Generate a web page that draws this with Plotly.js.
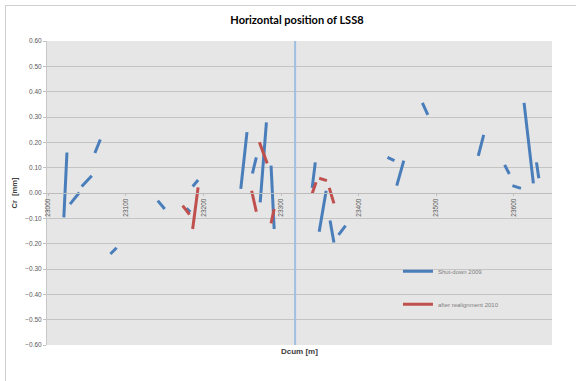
<!DOCTYPE html>
<html>
<head>
<meta charset="utf-8">
<script src="https://cdn.plot.ly/plotly-3.0.1.min.js"></script>
<style>
html,body{margin:0;padding:0;background:#fff;}
#wrap{position:relative;width:576px;height:381px;overflow:hidden;}
#chart{width:576px;height:381px;}
#frame{position:absolute;left:5px;top:5px;width:620px;height:420px;border:1.5px solid #d0d0d0;pointer-events:none;}
</style>
</head>
<body>
<div id="wrap"><div id="chart"></div><div id="frame"></div></div>
<script>
// Shut-down 2009 segments (start / end points)
const shutX0 = [23024, 23028, 23043, 23060, 23080, 23141, 23178, 23186, 23256, 23268, 23281, 23287, 23344, 23358, 23363, 23374, 23437, 23458, 23482, 23561, 23588, 23598, 23613, 23629];
const shutY0 = [0.160, -0.044, 0.026, 0.158, -0.241, -0.030, -0.060, 0.026, 0.240, 0.141, 0.279, 0.108, 0.121, 0.009, -0.109, -0.165, 0.141, 0.128, 0.356, 0.229, 0.111, 0.029, 0.356, 0.121];
const shutX1 = [23020, 23040, 23056, 23067, 23088, 23150, 23183, 23193, 23248, 23263, 23273, 23291, 23340, 23349, 23368, 23383, 23446, 23449, 23489, 23554, 23594, 23609, 23625, 23632];
const shutY1 = [-0.096, 0.002, 0.068, 0.211, -0.216, -0.063, -0.075, 0.051, 0.016, 0.077, -0.037, -0.142, 0.020, -0.153, -0.195, -0.129, 0.128, 0.029, 0.308, 0.147, 0.075, 0.018, 0.038, 0.058];

// After realignment 2010 segments
const realX0 = [23173, 23186, 23262, 23272, 23291, 23345, 23349, 23362];
const realY0 = [-0.050, -0.142, 0.009, 0.200, -0.063, 0.042, 0.058, 0.020];
const realX1 = [23182, 23193, 23268, 23282, 23287, 23340, 23359, 23368];
const realY1 = [-0.085, 0.022, -0.074, 0.117, -0.120, -0.002, 0.049, -0.041];

// Reference vertical marker
const markerX = 23318;
const yLimits = [-0.6, 0.6];

const xTicks = [23000, 23100, 23200, 23300, 23400, 23500, 23600];
const xTickText = ['23000', '23100', '23200', '23300', '23400', '23500', '23600'];
const seriesNames = ['Shut-down 2009', 'after realignment 2010'];

function segs(x0, y0, x1, y1) {
  const xs = [], ys = [];
  for (let i = 0; i < x0.length; i++) {
    xs.push(x0[i], x1[i], null);
    ys.push(y0[i], y1[i], null);
  }
  return {xs, ys};
}
const s = segs(shutX0, shutY0, shutX1, shutY1);
const r = segs(realX0, realY0, realX1, realY1);

const traces = [
  {x: [markerX, markerX], y: yLimits, mode: 'lines', line: {color: '#9fbfe3', width: 2}, showlegend: false, hoverinfo: 'skip'},
  {x: s.xs, y: s.ys, mode: 'lines', name: seriesNames[0], legendgroup: 'a', line: {color: '#4a7ebb', width: 3}, connectgaps: false},
  {x: r.xs, y: r.ys, mode: 'lines', name: seriesNames[1], legendgroup: 'b', line: {color: '#c0504d', width: 3}, connectgaps: false}
];

const layout = {
  width: 576, height: 381,
  margin: {l: 47, r: 24, t: 41, b: 36},
  paper_bgcolor: '#ffffff',
  plot_bgcolor: '#e6e6e6',
  font: {family: 'Liberation Sans, Arial, sans-serif', color: '#595959'},
  title: {text: '<b>Horizontal position of LSS8</b>', font: {family: 'Lato, Liberation Sans, sans-serif', size: 11, color: '#000000'}, xref: 'paper', x: 0.495, xanchor: 'center', yref: 'container', y: 0.947, yanchor: 'middle'},
  xaxis: {
    range: [22998.3, 23649], anchor: 'free', position: 0.5,
    tickvals: xTicks, ticktext: xTickText, tickangle: -90,
    tickfont: {size: 6.5, color: '#595959'},
    ticks: 'outside', ticklen: 2, tickcolor: '#bfbfbf',
    showline: true, linecolor: '#bcbcbc', linewidth: 1,
    showgrid: false, zeroline: false
  },
  yaxis: {
    range: yLimits, dtick: 0.1, tick0: 0, tickformat: '.2f',
    tickfont: {size: 6.5, color: '#595959'},
    ticks: 'outside', ticklen: 3, tickcolor: '#c0c0c0',
    showgrid: true, gridcolor: '#c4c4c4', gridwidth: 1,
    zeroline: true, zerolinecolor: '#bcbcbc', zerolinewidth: 1,
    showline: true, linecolor: '#c8c8c8', linewidth: 1,
    title: {text: '<b>Cr  [mm]</b>', font: {size: 7.5, color: '#404040'}, standoff: 6}
  },
  legend: {
    x: 0.695, xanchor: 'left', y: 0.29, yanchor: 'top',
    bgcolor: 'rgba(0,0,0,0)', font: {size: 6, color: '#7f7f7f'},
    tracegroupgap: 14, traceorder: 'grouped'
  },
  annotations: [
    {text: '<b>Dcum [m]</b>', xref: 'paper', yref: 'paper', x: 0.5, y: -0.023, xanchor: 'center', yanchor: 'middle', showarrow: false, font: {size: 8, color: '#404040'}}
  ],
  showlegend: true
};

Plotly.newPlot('chart', traces, layout, {staticPlot: true, displayModeBar: false});
</script>
</body>
</html>
